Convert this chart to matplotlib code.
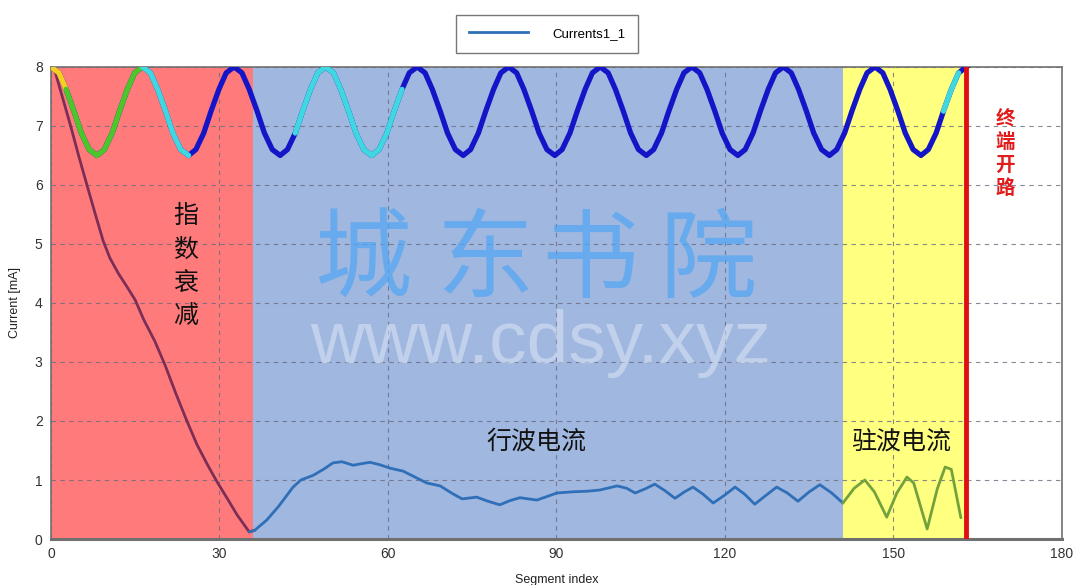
import numpy as np
import matplotlib
matplotlib.use("Agg")
import matplotlib.pyplot as plt
from matplotlib.lines import Line2D

# main current curve (Currents1_1)
cur_x = [0.5, 2, 3.5, 5, 6.4, 8, 9.3, 10.5, 12, 13.5, 15, 16.5, 18.5, 20.3, 22.3, 24.2,
         26, 27.8, 29.5, 31.3, 33.2, 35.3, 36.3, 38.4, 40.5, 43.1, 44.5, 46.7, 48.5,
         50.2, 51.8, 53.8, 55.5, 56.8, 58.5, 60.4, 62.7, 64.8, 66.9, 69.3, 71.3, 73.2,
         75.8, 77.8, 79.9, 81.7, 83.5, 86.5, 88.3, 90.1, 92.9, 95.5, 97.7, 100.8, 102.5,
         104, 105.8, 107.5, 109.3, 111.1, 112.8, 114.3, 116.1, 117.9, 119.9, 121.8, 123.5,
         125.3, 127.3, 129.2, 131.1, 133, 135, 136.9, 139, 141, 143, 144.9, 146.6, 148.8,
         150.6, 152.4, 153.6, 156, 157.8, 159.2, 160.3, 162]
cur_y = [8.0, 7.5, 7.0, 6.47, 6.0, 5.47, 5.05, 4.76, 4.5, 4.28, 4.05, 3.72, 3.35, 2.95, 2.45, 2.0,
         1.6, 1.27, 0.98, 0.7, 0.4, 0.12, 0.15, 0.32, 0.55, 0.88, 1.0, 1.08, 1.18,
         1.29, 1.31, 1.25, 1.28, 1.30, 1.26, 1.2, 1.15, 1.05, 0.95, 0.9, 0.78, 0.68,
         0.71, 0.64, 0.58, 0.65, 0.7, 0.66, 0.72, 0.78, 0.80, 0.81, 0.83, 0.9, 0.86,
         0.78, 0.85, 0.93, 0.82, 0.69, 0.8, 0.88, 0.76, 0.61, 0.74, 0.88, 0.76,
         0.59, 0.74, 0.88, 0.78, 0.64, 0.8, 0.92, 0.78, 0.61, 0.86, 1.0, 0.8, 0.37,
         0.78, 1.05, 0.95, 0.17, 0.85, 1.22, 1.18, 0.36]

# illustrative voltage wave along the top (6.5 .. 8)
wave_x = [0.0, 1.4, 2.7, 4.1, 5.4, 6.8, 8.2, 9.5, 10.9, 12.2, 13.6, 14.9,
          16.3, 17.7, 19.0, 20.4, 21.7, 23.1, 24.5, 25.8, 27.2, 28.5, 29.9, 31.2,
          32.6, 34.0, 35.3, 36.7, 38.0, 39.4, 40.8, 42.1, 43.5, 44.8, 46.2, 47.5,
          48.9, 50.3, 51.6, 53.0, 54.3, 55.7, 57.1, 58.4, 59.8, 61.1, 62.5, 63.8,
          65.2, 66.6, 67.9, 69.3, 70.6, 72.0, 73.4, 74.7, 76.1, 77.4, 78.8, 80.1,
          81.5, 82.9, 84.2, 85.6, 86.9, 88.3, 89.7, 91.0, 92.4, 93.7, 95.1, 96.4,
          97.8, 99.2, 100.5, 101.9, 103.2, 104.6, 106.0, 107.3, 108.7, 110.0, 111.4, 112.7,
          114.1, 115.5, 116.8, 118.2, 119.5, 120.9, 122.3, 123.6, 125.0, 126.3, 127.7, 129.0,
          130.4, 131.8, 133.1, 134.5, 135.8, 137.2, 138.6, 139.9, 141.3, 142.6, 144.0, 145.3,
          146.7, 148.1, 149.4, 150.8, 152.1, 153.5, 154.9, 156.2, 157.6, 158.9, 160.3, 161.6,
          163.0]
wave_y = [8.0, 7.9, 7.62, 7.25, 6.88, 6.6, 6.5, 6.6, 6.88, 7.25, 7.62, 7.9] * 10 + [8.0]

# coloured pieces of the wave (x ranges)
wave_parts = [(0.0, 2.7, "#f5d020"), (2.7, 16.3, "#4cc72a"), (16.3, 24.5, "#3fd8e0"),
              (43.5, 62.5, "#3fd8e0"), (158.9, 161.6, "#3fd8e0")]

regions = [(0, 36, "#ff7b7b"), (36, 141, "#a0b7df"), (141, 163, "#ffff80")]
region_line_colors = ["#7d2e57", "#2f6fb8", "#73a23c"]
open_end = 163

plt.rcParams['font.family'] = ['Liberation Sans', 'DejaVu Sans']
cjk = ['Noto Sans CJK SC', 'DejaVu Sans']

fig = plt.figure(figsize=(10.8, 5.85), dpi=100)
ax = fig.add_axes([0.0472, 0.0786, 0.9361, 0.807])

for x0, x1, c in regions:
    ax.axvspan(x0, x1, color=c, zorder=0, lw=0)

ax.grid(True, color="#6a6a80", linestyle=(0, (4, 4)), lw=0.8, alpha=0.8)

cx = np.array(cur_x)
cy = np.array(cur_y)
for (x0, x1, _), lc in zip(regions, region_line_colors):
    idx = np.where((cx >= x0 - 1.2) & (cx <= x1 + 1.2))[0]
    lo, hi = idx[0], idx[-1]
    ax.plot(cx[lo:hi + 1], cy[lo:hi + 1], color=lc, lw=2, zorder=3,
            solid_capstyle="round", solid_joinstyle="round")

wx = np.array(wave_x)
wy = np.array(wave_y)
ax.plot(wx, wy, color="#1515c8", lw=3.8, zorder=4, solid_joinstyle="round")
for x0, x1, c in wave_parts:
    m = (wx >= x0 - 1e-6) & (wx <= x1 + 1e-6)
    ax.plot(wx[m], wy[m], color=c, lw=3.8, zorder=5, solid_capstyle="round",
            solid_joinstyle="round")

ax.axvline(open_end, color="#e01010", lw=3.5, zorder=6)

# annotations
ax.text(24.0, 4.62, "指\n数\n衰\n减", family=cjk, fontsize=18, ha="center",
        va="center", linespacing=1.38, color="#111111", fontweight="medium", zorder=7)
ax.text(86.5, 1.65, "行波电流", family=cjk, fontsize=18, ha="center",
        va="center", color="#111111", fontweight="medium", zorder=7)
ax.text(151.3, 1.65, "驻波电流", family=cjk, fontsize=18, ha="center",
        va="center", color="#111111", fontweight="medium", zorder=7)
ax.text(169.9, 6.52, "终\n端\n开\n路", family=cjk, fontsize=14, ha="center",
        va="center", linespacing=1.25, color="#e01c1c", fontweight="bold", zorder=7)

# watermark
for ch, xc in zip("城东书院", [55.5, 77.3, 96.0, 117.0]):
    ax.text(xc, 4.69, ch, family=cjk, fontsize=70, ha="center", va="center",
            color="#55a6f2", alpha=0.75, fontweight="light", zorder=2)
ax.text(87.1, 3.32, "www.cdsy.xyz", fontsize=54, ha="center", va="center",
        color="#e2ebfa", alpha=0.5, zorder=2)

ax.set_xlim(0, 180)
ax.set_ylim(0, 8)
ax.set_xticks(range(0, 181, 30))
ax.set_yticks(range(0, 9))
ax.tick_params(length=0, labelsize=10, colors="#333333", pad=6)
for s in ax.spines.values():
    s.set_color("#707070")
    s.set_linewidth(1.2)
ax.spines["bottom"].set_linewidth(2.2)

ax.set_xlabel("Segment index", fontsize=9, labelpad=9, color="#222222")
ax.set_ylabel("Current [mA]", fontsize=9, labelpad=10, color="#222222")

handle = Line2D([], [], color="#2f6fb8", lw=2)
fig.legend([handle], ["Currents1_1"], loc="center", bbox_to_anchor=(547 / 1080, 1 - 34 / 585),
           fontsize=9.5, frameon=True, fancybox=False, edgecolor="#555555",
           handlelength=4.5, borderpad=1.0, handletextpad=1.8)

fig.savefig("out.png", dpi=100)
